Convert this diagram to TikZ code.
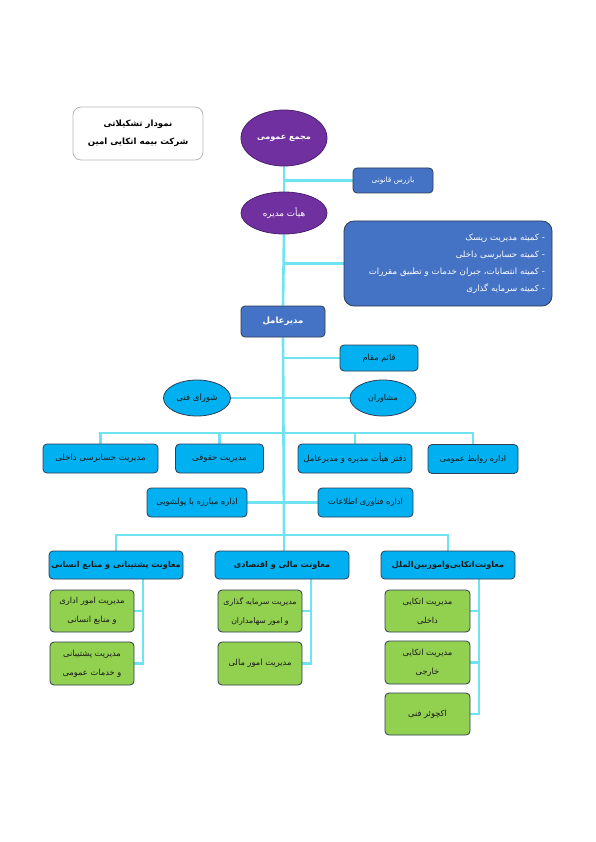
\documentclass[tikz,border=0pt]{standalone}
\usepackage{fontspec}
\newfontfamily\fa[Script=Arabic]{DejaVu Sans}
\TeXXeTstate=1
\usetikzlibrary{shapes.geometric,backgrounds}
\definecolor{purp}{HTML}{7030A0}
\definecolor{purpd}{HTML}{4B1F6E}
\definecolor{blu}{HTML}{4472C4}
\definecolor{cyn}{HTML}{00B0F0}
\definecolor{grn}{HTML}{92D050}
\definecolor{bordc}{HTML}{2F3D55}
\definecolor{linec}{HTML}{6FE3F2}
\definecolor{txtd}{HTML}{1A1A1A}
\newcommand\rtxt[1]{\beginR#1\endR}
\tikzset{
  base/.style={inner sep=0pt, align=center, font=\fa\fontsize{8.5}{10}\selectfont},
  boxbase/.style={base, rectangle, rounded corners=4pt, draw=bordc, line width=0.8pt},
  bluebox/.style={boxbase, fill=blu, text=white},
  cynbox/.style={boxbase, fill=cyn, text=txtd},
  grnbox/.style={boxbase, fill=grn, text=txtd, font=\fa\fontsize{8.3}{19}\selectfont},
  headbox/.style={boxbase, fill=cyn, text=txtd, font=\fa\bfseries\fontsize{8.1}{10}\selectfont},
  purpell/.style={base, ellipse, fill=purp, draw=purpd, line width=0.8pt, text=white},
  cynell/.style={base, ellipse, fill=cyn, draw=bordc, line width=0.8pt, text=txtd},
  conn/.style={draw=linec, line width=2.6pt},
}
\begin{document}
\begin{tikzpicture}[x=1pt,y=-1pt]
\useasboundingbox (0,0) rectangle (595,842);

% title
\node[base, rectangle, rounded corners=8pt, draw=gray!55, line width=0.8pt, fill=white,
  minimum width=130pt, minimum height=53pt, font=\fa\bfseries\fontsize{8.6}{18}\selectfont]
  (title) at (138,133.5) {\rtxt{نمودار تشکیلاتی}\\\rtxt{شرکت بیمه اتکایی امین}};

% top
\node[purpell, minimum width=86pt, minimum height=56pt, font=\fa\bfseries\fontsize{8.1}{10}\selectfont] (e1) at (284,138) {\rtxt{مجمع عمومی}};
\node[bluebox, minimum width=80pt, minimum height=25pt, font=\fa\fontsize{7.4}{9}\selectfont] (bazres) at (393,180.5) {\rtxt{بازرس قانونی}};
\node[purpell, minimum width=86pt, minimum height=42pt, font=\fa\fontsize{8.8}{10}\selectfont] (e2) at (284,213) {\rtxt{هیأت مدیره}};
\node[bluebox, rounded corners=10pt, minimum width=208pt, minimum height=85pt, text width=194pt, align=right,
  font=\fa\fontsize{8.6}{17}\selectfont] (comm) at (448,263.5)
  {\rtxt{- کمیته مدیریت ریسک}\\\rtxt{- کمیته حسابرسی داخلی}\\\rtxt{- کمیته انتصابات، جبران خدمات و تطبیق مقررات}\\\rtxt{- کمیته سرمایه گذاری}};
\node[bluebox, minimum width=84pt, minimum height=31pt, font=\fa\bfseries\fontsize{8.6}{10}\selectfont] (ceo) at (283,321.5) {\rtxt{مدیرعامل}};

\node[cynbox, minimum width=78pt, minimum height=26pt, font=\fa\fontsize{8.2}{10}\selectfont] (ghaem) at (379,358) {\rtxt{قائم مقام}};
\node[cynell, minimum width=67pt, minimum height=36pt] (shora) at (197,398) {\rtxt{شورای فنی}};
\node[cynell, minimum width=66pt, minimum height=36pt, font=\fa\fontsize{8}{10}\selectfont] (moshaver) at (383,398) {\rtxt{مشاوران}};

% row 1
\node[cynbox, minimum width=115pt, minimum height=29pt] (r1a) at (100.5,458.5) {\rtxt{مدیریت حسابرسی داخلی}};
\node[cynbox, minimum width=88pt, minimum height=29pt] (r1b) at (219.5,458.5) {\rtxt{مدیریت حقوقی}};
\node[cynbox, minimum width=114pt, minimum height=29pt] (r1c) at (355,458.5) {\rtxt{دفتر هیأت مدیره و مدیرعامل}};
\node[cynbox, minimum width=90pt, minimum height=29pt, font=\fa\fontsize{8.1}{10}\selectfont] (r1d) at (473,459) {\rtxt{اداره روابط عمومی}};
% row 2
\node[cynbox, minimum width=100pt, minimum height=29pt, font=\fa\fontsize{8.3}{10}\selectfont] (r2a) at (197,502.5) {\rtxt{اداره مبارزه با پولشویی}};
\node[cynbox, minimum width=95pt, minimum height=29pt, font=\fa\fontsize{8.3}{10}\selectfont] (r2b) at (365.5,502.5) {\rtxt{اداره فناوری اطلاعات}};

% heads
\node[headbox, minimum width=134pt, minimum height=28pt] (h1) at (116,565) {\rtxt{معاونت پشتیبانی و منابع انسانی}};
\node[headbox, minimum width=134pt, minimum height=28pt] (h2) at (282,565) {\rtxt{معاونت مالی و اقتصادی}};
\node[headbox, minimum width=134pt, minimum height=28pt] (h3) at (448,565) {\rtxt{معاونت‌اتکایی‌واموربین‌الملل}};

% greens
\node[grnbox, minimum width=84pt, minimum height=42pt] (g11) at (92,611) {\rtxt{مدیریت امور اداری}\\\rtxt{و منابع انسانی}};
\node[grnbox, minimum width=84pt, minimum height=43pt] (g12) at (92,663.5) {\rtxt{مدیریت پشتیبانی}\\\rtxt{و خدمات عمومی}};
\node[grnbox, minimum width=84pt, minimum height=42pt, font=\fa\fontsize{7.8}{19}\selectfont] (g21) at (260,611) {\rtxt{مدیریت سرمایه گذاری}\\\rtxt{و امور سهامداران}};
\node[grnbox, minimum width=84pt, minimum height=43pt] (g22) at (260,663.5) {\rtxt{مدیریت امور مالی}};
\node[grnbox, minimum width=85pt, minimum height=42pt] (g31) at (427.5,611) {\rtxt{مدیریت اتکایی}\\\rtxt{داخلی}};
\node[grnbox, minimum width=85pt, minimum height=43pt] (g32) at (427.5,662.5) {\rtxt{مدیریت اتکایی}\\\rtxt{خارجی}};
\node[grnbox, minimum width=85pt, minimum height=42pt] (g33) at (427.5,714) {\rtxt{اکچوئر فنی}};

\coordinate (bus1) at (284,433);
\coordinate (bus2) at (284,535);
\coordinate (v1) at (143,0);
\coordinate (v2) at (311,0);
\coordinate (v3) at (479,0);

\begin{pgfonlayer}{background}
\draw[conn] (e1.south) -- (e2.north);
\draw[conn] (e2.south) -- (ceo.north);
\draw[conn] (ceo.south) -- (bus2);
\draw[conn] (e1.south |- bazres.west) -- (bazres.west);
\draw[conn] (e2.south |- comm.west) -- (comm.west);
\draw[conn] (ceo.south |- ghaem.west) -- (ghaem.west);
\draw[conn] (shora.east) -- (moshaver.west);
\draw[conn] (r1a.north) |- (bus1) -| (r1d.north);
\draw[conn] (r1b.north) -- (r1b.north |- bus1);
\draw[conn] (r1c.north) -- (r1c.north |- bus1);
\draw[conn] (r2a.east) -- (r2b.west);
\draw[conn] (h1.north) |- (bus2) -| (h3.north);
\draw[conn] (bus2) -- (bus2 |- h2.north);
\draw[conn] (v1 |- h1.south) |- (g12.east);
\draw[conn] (v1 |- g11.east) -- (g11.east);
\draw[conn] (v2 |- h2.south) |- (g22.east);
\draw[conn] (v2 |- g21.east) -- (g21.east);
\draw[conn] (v3 |- h3.south) |- (g33.east);
\draw[conn] (v3 |- g31.east) -- (g31.east);
\draw[conn] (v3 |- g32.east) -- (g32.east);
\end{pgfonlayer}
\end{tikzpicture}
\end{document}
